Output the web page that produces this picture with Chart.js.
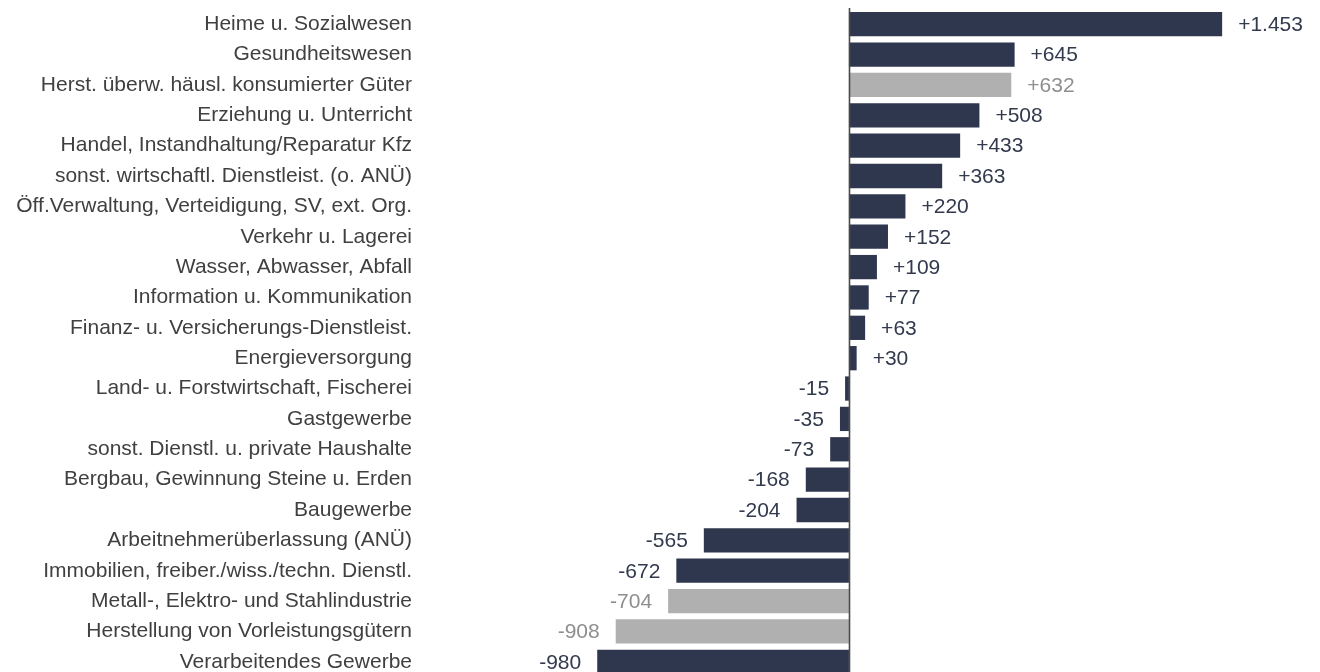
<!DOCTYPE html>
<html>
<head>
<meta charset="utf-8">
<script src="https://cdn.jsdelivr.net/npm/chart.js@4/dist/chart.umd.min.js"></script>
<style>
  html, body { margin: 0; padding: 0; background: #ffffff; overflow: hidden; }
  #wrap { width: 1320px; height: 677px; position: relative; }
</style>
</head>
<body>
<div id="wrap"><canvas id="c" width="1320" height="677"></canvas></div>
<script>
const categories = [
  "Heime u. Sozialwesen",
  "Gesundheitswesen",
  "Herst. überw. häusl. konsumierter Güter",
  "Erziehung u. Unterricht",
  "Handel, Instandhaltung/Reparatur Kfz",
  "sonst. wirtschaftl. Dienstleist. (o. ANÜ)",
  "Öff.Verwaltung, Verteidigung, SV, ext. Org.",
  "Verkehr u. Lagerei",
  "Wasser, Abwasser, Abfall",
  "Information u. Kommunikation",
  "Finanz- u. Versicherungs-Dienstleist.",
  "Energieversorgung",
  "Land- u. Forstwirtschaft, Fischerei",
  "Gastgewerbe",
  "sonst. Dienstl. u. private Haushalte",
  "Bergbau, Gewinnung Steine u. Erden",
  "Baugewerbe",
  "Arbeitnehmerüberlassung (ANÜ)",
  "Immobilien, freiber./wiss./techn. Dienstl.",
  "Metall-, Elektro- und Stahlindustrie",
  "Herstellung von Vorleistungsgütern",
  "Verarbeitendes Gewerbe"
];
const changes = [1453, 645, 632, 508, 433, 363, 220, 152, 109, 77, 63, 30, -15, -35, -73, -168, -204, -565, -672, -704, -908, -980];
const isSubBranch = [false, false, true, false, false, false, false, false, false, false, false, false, false, false, false, false, false, false, false, true, true, false];

const DARK = '#2f374e';
const GREY = '#b0b0b0';
const DARK_TXT = '#333a4e';
const GREY_TXT = '#8e8e8e';
const FONT = '"Liberation Sans", Arial, sans-serif';

function fmt(v) {
  const s = Math.abs(v).toString().replace(/\B(?=(\d{3})+(?!\d))/g, '.');
  return (v > 0 ? '+' : '-') + s;
}

const zeroLine = {
  id: 'zeroLine',
  afterDatasetsDraw(chart) {
    const { ctx, chartArea, scales } = chart;
    const x = Math.round(scales.x.getPixelForValue(0)) + 0.5;
    ctx.save();
    ctx.strokeStyle = '#4a4a4a';
    ctx.lineWidth = 1.6;
    ctx.beginPath();
    ctx.moveTo(x, chartArea.top - 1);
    ctx.lineTo(x, chartArea.bottom);
    ctx.stroke();
    ctx.restore();
  }
};

const valueLabels = {
  id: 'valueLabels',
  afterDatasetsDraw(chart) {
    const { ctx } = chart;
    const meta = chart.getDatasetMeta(0);
    ctx.save();
    ctx.font = '21px ' + FONT;
    ctx.textBaseline = 'middle';
    meta.data.forEach((bar, i) => {
      const v = changes[i];
      ctx.fillStyle = isSubBranch[i] ? GREY_TXT : DARK_TXT;
      if (v >= 0) {
        ctx.textAlign = 'left';
        ctx.fillText(fmt(v), bar.x + 16, bar.y + 1);
      } else {
        ctx.textAlign = 'right';
        ctx.fillText(fmt(v), bar.x - 16, bar.y + 1);
      }
    });
    ctx.restore();
  }
};

new Chart(document.getElementById('c'), {
  type: 'bar',
  data: {
    labels: categories,
    datasets: [{
      data: changes,
      backgroundColor: isSubBranch.map(g => g ? GREY : DARK),
      borderWidth: 0,
      barPercentage: 0.8,
      categoryPercentage: 1.0
    }]
  },
  options: {
    indexAxis: 'y',
    responsive: false,
    animation: false,
    devicePixelRatio: 1,
    layout: { padding: { top: 9, bottom: 0, left: 0, right: 0 } },
    plugins: {
      legend: { display: false },
      tooltip: { enabled: false }
    },
    scales: {
      x: {
        display: false,
        min: -1670,
        max: 1834
      },
      y: {
        grid: { display: false, drawTicks: false },
        border: { display: false },
        ticks: {
          color: '#404040',
          padding: 8,
          font: { family: FONT, size: 21 },
          autoSkip: false
        },
        afterFit(scale) {
          scale.width = 420;
          scale.paddingTop = 0;
          scale.paddingBottom = 0;
        }
      }
    }
  },
  plugins: [zeroLine, valueLabels]
});
</script>
</body>
</html>
